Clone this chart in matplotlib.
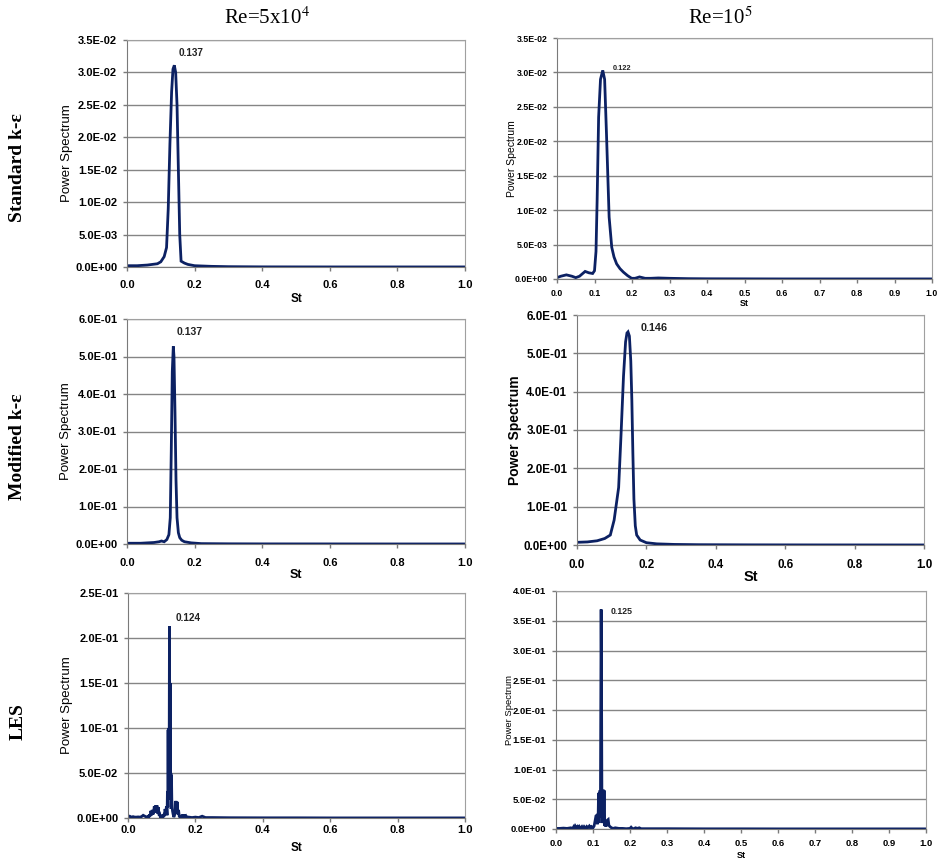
import numpy as np
import matplotlib
matplotlib.use('Agg')
import matplotlib.pyplot as plt
from matplotlib.ticker import FuncFormatter, MultipleLocator

plt.rcParams['font.family'] = ['Liberation Sans', 'DejaVu Sans']
plt.rcParams['mathtext.fontset'] = 'stix'

# Standard k-e, Re=5x10^4
st_ske_5e4 = [0, 0.03, 0.06, 0.09, 0.1, 0.11, 0.117, 0.122, 0.127, 0.132, 0.136, 0.14, 0.144,
              0.148, 0.152, 0.156, 0.16, 0.17, 0.18, 0.2, 0.25, 0.3, 0.4, 0.6, 0.8, 1.0]
ps_ske_5e4 = [0.0002, 0.0002, 0.0003, 0.0005, 0.0008, 0.0016, 0.003, 0.009, 0.019, 0.027, 0.0305,
              0.0311, 0.030, 0.025, 0.015, 0.005, 0.0009, 0.0006, 0.0004, 0.0002, 0.0001, 0.00005,
              0.00002, 0.00001, 0.00001, 0.00001]

# Standard k-e, Re=10^5
st_ske_1e5 = [0, 0.01, 0.025, 0.04, 0.05, 0.06, 0.075, 0.085, 0.095, 0.1, 0.104, 0.107, 0.111,
              0.116, 0.122, 0.127, 0.132, 0.139, 0.146, 0.152, 0.159, 0.168, 0.177, 0.188, 0.199,
              0.208, 0.22, 0.235, 0.25, 0.27, 0.3, 0.35, 0.4, 0.5, 0.6, 0.8, 1.0]
ps_ske_1e5 = [0.0002, 0.0004, 0.0006, 0.0004, 0.0002, 0.0004, 0.0011, 0.0009, 0.0008, 0.0012,
              0.004, 0.0114, 0.0235, 0.029, 0.0303, 0.029, 0.021, 0.009, 0.0046, 0.0032, 0.0022,
              0.0015, 0.001, 0.0005, 0.0001, 0.0001, 0.0003, 0.0001, 0.0001, 0.00015, 0.0001,
              0.00005, 0.00003, 0.00002, 0.00001, 0.00001, 0.00001]

# Modified k-e, Re=5x10^4
st_mke_5e4 = [0, 0.04, 0.08, 0.095, 0.102, 0.11, 0.118, 0.124, 0.128, 0.131, 0.134, 0.137, 0.139,
              0.142, 0.145, 0.148, 0.152, 0.156, 0.162, 0.17, 0.19, 0.22, 0.3, 0.4, 0.6, 0.8, 1.0]
ps_mke_5e4 = [0.002, 0.002, 0.004, 0.006, 0.008, 0.006, 0.012, 0.025, 0.07, 0.25, 0.46, 0.527,
              0.5, 0.35, 0.17, 0.07, 0.03, 0.017, 0.01, 0.006, 0.003, 0.001, 0.0005, 0.0003,
              0.0002, 0.0001, 0.0001]

# Modified k-e, Re=10^5
st_mke_1e5 = [0, 0.03, 0.058, 0.08, 0.096, 0.107, 0.12, 0.127, 0.134, 0.14, 0.144, 0.147, 0.151,
              0.155, 0.158, 0.161, 0.164, 0.168, 0.172, 0.182, 0.2, 0.23, 0.28, 0.35, 0.5, 0.7, 1.0]
ps_mke_1e5 = [0.007, 0.008, 0.011, 0.017, 0.026, 0.065, 0.15, 0.29, 0.44, 0.53, 0.553, 0.556,
              0.545, 0.48, 0.38, 0.24, 0.12, 0.05, 0.026, 0.013, 0.006, 0.003, 0.0015, 0.0008,
              0.0004, 0.0002, 0.0001]

# LES, Re=5x10^4
st_les_5e4 = [0.0, 0.005, 0.01, 0.015, 0.02, 0.025, 0.03, 0.035, 0.04, 0.045, 0.05, 0.055,
              0.060, 0.062, 0.064, 0.066, 0.068, 0.070, 0.072, 0.074, 0.076, 0.078, 0.080, 0.082,
              0.084, 0.086, 0.088, 0.090, 0.092, 0.094, 0.096, 0.098, 0.100, 0.102, 0.104, 0.106,
              0.108, 0.110, 0.112, 0.114, 0.116, 0.117, 0.118, 0.119, 0.120, 0.121, 0.122, 0.123,
              0.124, 0.125, 0.126, 0.127, 0.128, 0.129, 0.130, 0.132, 0.134, 0.136, 0.138, 0.140,
              0.142, 0.144, 0.146, 0.148, 0.150, 0.152, 0.154, 0.156, 0.158, 0.160, 0.162, 0.164,
              0.166, 0.168, 0.170, 0.172, 0.174, 0.176, 0.178, 0.180, 0.19, 0.2, 0.21, 0.22, 0.23,
              0.25, 0.3, 0.4, 0.5, 0.6, 0.8, 1.0]
ps_les_5e4 = [0.001, 0.002, 0.001, 0.0015, 0.001, 0.001, 0.0012, 0.001, 0.0015, 0.003, 0.002, 0.001,
              0.002, 0.001, 0.004, 0.002, 0.008, 0.003, 0.009, 0.004, 0.006, 0.013, 0.006, 0.014,
              0.008, 0.014, 0.005, 0.012, 0.003, 0.004, 0.001, 0.002, 0.001, 0.002, 0.001, 0.003,
              0.002, 0.010, 0.004, 0.013, 0.003, 0.030, 0.012, 0.098, 0.020, 0.100, 0.030, 0.213,
              0.040, 0.150, 0.025, 0.050, 0.010, 0.048, 0.020, 0.008, 0.004, 0.001, 0.003, 0.008,
              0.019, 0.006, 0.018, 0.004, 0.009, 0.002, 0.001, 0.003, 0.001, 0.002, 0.001, 0.004,
              0.001, 0.004, 0.001, 0.002, 0.0005, 0.001, 0.0005, 0.001, 0.0005, 0.001, 0.0005,
              0.002, 0.0005, 0.0005, 0.0003, 0.0002, 0.0002, 0.0001, 0.0001, 0.0001]

# LES, Re=10^5
st_les_1e5 = [0.0, 0.01, 0.02, 0.03, 0.04, 0.045, 0.048, 0.05, 0.052, 0.055, 0.058, 0.06, 0.063,
              0.066, 0.07, 0.073, 0.076, 0.08, 0.083, 0.086, 0.09, 0.093, 0.096, 0.1, 0.103, 0.106,
              0.108, 0.110, 0.112, 0.114, 0.115, 0.116, 0.117, 0.118, 0.119, 0.120, 0.121, 0.122,
              0.123, 0.124, 0.125, 0.126, 0.127, 0.128, 0.129, 0.130, 0.131, 0.133, 0.135, 0.137,
              0.139, 0.141, 0.143, 0.146, 0.15, 0.155, 0.16, 0.17, 0.18, 0.19, 0.2, 0.203, 0.206,
              0.21, 0.215, 0.22, 0.225, 0.23, 0.25, 0.3, 0.4, 0.5, 0.6, 0.8, 1.0]
ps_les_1e5 = [0.001, 0.001, 0.0015, 0.001, 0.002, 0.001, 0.004, 0.002, 0.005, 0.002, 0.004, 0.001,
              0.004, 0.001, 0.004, 0.001, 0.004, 0.001, 0.004, 0.002, 0.005, 0.002, 0.004, 0.002,
              0.005, 0.015, 0.022, 0.023, 0.008, 0.024, 0.060, 0.010, 0.062, 0.030, 0.065, 0.020,
              0.200, 0.369, 0.250, 0.060, 0.010, 0.065, 0.020, 0.066, 0.010, 0.065, 0.005, 0.010,
              0.004, 0.012, 0.015, 0.016, 0.006, 0.004, 0.002, 0.001, 0.002, 0.001, 0.001, 0.0005,
              0.001, 0.003, 0.001, 0.0005, 0.002, 0.001, 0.002, 0.0005, 0.0005, 0.0005, 0.0003,
              0.0003, 0.0002, 0.0002, 0.0002]

peak_labels = ['0.137', '0.122', '0.137', '0.146', '0.124', '0.125']

W, H = 938, 858
LINE = '#0c2163'
GRID = '#858585'

fig = plt.figure(figsize=(W / 100, H / 100), dpi=100)

# per panel: data, axes box in pixels (l, t, r, b), y range/step, x step,
# tick font, ylabel font/weight/x-centre px, xlabel font/y-centre px, xtick pad, note font/offset
panels = [
    (st_ske_5e4, ps_ske_5e4, (127, 40, 465, 267), 0.035, 0.005, 0.2, 8, 9.5, 'normal', 67, 8.5, 299, 6, 7.2, (4, 12)),
    (st_ske_1e5, ps_ske_1e5, (557, 38, 932, 279), 0.035, 0.005, 0.1, 6.3, 7.5, 'normal', 512, 6.3, 303, 4, 5.3, (10, 2)),
    (st_mke_5e4, ps_mke_5e4, (127, 319, 465, 544), 0.6, 0.1, 0.2, 8, 9.5, 'normal', 66, 9, 575, 7, 7.5, (3, 14)),
    (st_mke_1e5, ps_mke_1e5, (577, 315, 924, 545), 0.6, 0.1, 0.2, 8.4, 10, 'bold', 515, 10.5, 577, 7, 7.8, (13, 4)),
    (st_les_5e4, ps_les_5e4, (128, 593, 465, 818), 0.25, 0.05, 0.2, 8, 9.5, 'normal', 67, 8.5, 848, 2, 7.2, (6, 8)),
    (st_les_1e5, ps_les_1e5, (556, 591, 926, 829), 0.4, 0.05, 0.1, 6.8, 6.8, 'normal', 510, 6.5, 855, 4, 6.3, (9, -2)),
]

for (st, ps, box, ymax, ystep, xstep, tfs, yfs, yw, ylx, xfs, xly, xpad, nfs, noff), lab in zip(panels, peak_labels):
    l, t, r, b = box
    ax = fig.add_axes([l / W, 1 - b / H, (r - l) / W, (b - t) / H])
    ax.plot(st, ps, color=LINE, lw=2, solid_joinstyle='miter')
    ax.set_xlim(0, 1.0)
    ax.set_ylim(0, ymax)
    ax.yaxis.set_major_locator(MultipleLocator(ystep))
    ax.xaxis.set_major_locator(MultipleLocator(xstep))
    ax.yaxis.set_major_formatter(FuncFormatter(lambda v, p: f'{v:.1E}'))
    ax.xaxis.set_major_formatter(FuncFormatter(lambda v, p: f'{v:.1f}'))
    ax.grid(axis='y', color=GRID, lw=1)
    ax.set_axisbelow(True)
    for s in ['top', 'right']:
        ax.spines[s].set_color('#a0a0a0')
    for s in ['left', 'bottom']:
        ax.spines[s].set_color('#7a7a7a')
    ax.tick_params(direction='out', length=3, width=1, color='#7a7a7a')
    ax.tick_params(axis='y', pad=4)
    ax.tick_params(axis='x', pad=xpad)
    for tl in ax.get_xticklabels() + ax.get_yticklabels():
        tl.set_fontsize(tfs)
        tl.set_fontweight('bold')
    ax.set_ylabel('Power Spectrum', fontsize=yfs, fontweight=yw, va='center')
    ax.yaxis.set_label_coords((ylx - l) / (r - l), 0.5)
    ax.set_xlabel('St', fontsize=xfs, fontweight='bold', va='center')
    ax.xaxis.set_label_coords(0.5, (b - xly) / (b - t))

    k = int(np.argmax(ps))
    ax.annotate(lab, xy=(st[k], ps[k]), xytext=noff, textcoords='offset pixels',
                fontsize=nfs, fontweight='bold', ha='left', va='center', color='#222222')

col_titles = [(267, r'Re=5x10$^{4}$'), (720, r'Re=10$^{5}$')]
for x, txt in col_titles:
    fig.text(x / W, 1 - 18 / H, txt, fontsize=15, family='Liberation Serif', ha='center', va='center')

row_titles = [(168, 'Standard k-ε'), (447, 'Modified k-ε'), (722, 'LES')]
for y, txt in row_titles:
    fig.text(18 / W, 1 - y / H, txt, fontsize=14, family='Liberation Serif', fontweight='bold',
             rotation=90, ha='center', va='center')

fig.savefig('out.png', dpi=100)
